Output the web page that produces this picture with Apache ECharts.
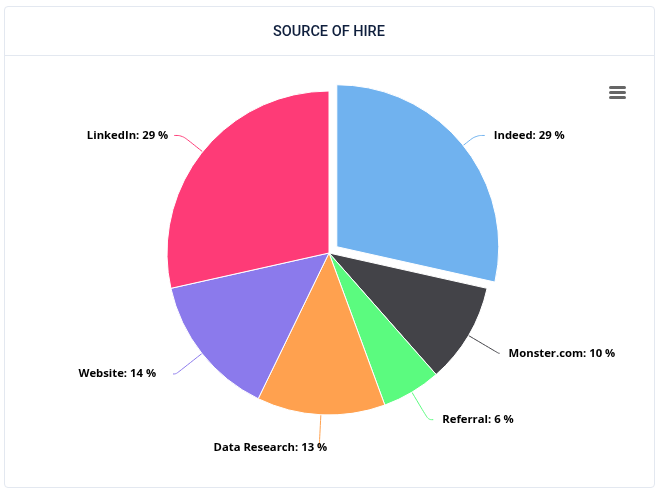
<!DOCTYPE html>
<html>
<head>
<meta charset="utf-8">
<script src="https://cdn.jsdelivr.net/npm/echarts@6/dist/echarts.min.js"></script>
<style>
  html, body { margin: 0; padding: 0; background: #fff; }
  #card { position: absolute; left: 4px; top: 6px; width: 649px; height: 480px; border: 1px solid #e3e8f0; border-radius: 4px; }
  #head { position: absolute; left: 0; top: 48px; width: 100%; border-top: 1px solid #e3e8f0; }
  #chart { position: absolute; left: 0; top: 0; width: 661px; height: 494px; }
</style>
</head>
<body>
<div id="card"><div id="head"></div></div>
<div id="chart"></div>
<script>
// slices, clockwise from the top
const sources = ['Indeed', 'Monster.com', 'Referral', 'Data Research', 'Website', 'LinkedIn']
const shares = [28.5, 10, 5.9, 12.8, 14.3, 28.5]
const colors = ['#70b2ef', '#434348', '#5bfb7f', '#ffa14f', '#8b7aec', '#fe3b77']
const pulledOut = 'Indeed'

// label line per slice: [length, length2, gap to text]
const leaders = [[16, 9, 9], [35, 1, 9], [32, 5, 9], [33, 1, -9], [33, 3, 17], [26, 8, 6]]

const chart = echarts.init(document.getElementById('chart'))
chart.setOption({
  animation: false,
  title: {
    text: 'SOURCE OF HIRE',
    left: 268,
    top: 20,
    textStyle: { fontFamily: 'Roboto', fontSize: 14.5, fontWeight: 500, color: '#0f1f3d' }
  },
  // burger menu
  graphic: [86, 91, 96].map(y => ({
    type: 'rect',
    shape: { x: 609, y, width: 17, height: 3, r: 1.5 },
    style: { fill: '#666' }
  })),
  color: colors,
  series: [{
    type: 'pie',
    center: [329, 253],
    radius: [0, 162],
    startAngle: 90,
    clockwise: true,
    selectedMode: 'single',
    selectedOffset: 10,
    avoidLabelOverlap: false,
    itemStyle: { borderColor: '#fff', borderWidth: 1 },
    label: {
      formatter: p => p.name + ': ' + Math.round(p.value) + ' %',
      fontFamily: 'Open Sans',
      fontSize: 11.3,
      fontWeight: 'bold',
      color: '#000',
      padding: [7, 0, 0, 0]
    },
    labelLine: { show: true, smooth: 0.4, lineStyle: { width: 1 } },
    data: sources.map((name, i) => ({
      name,
      value: shares[i],
      selected: name === pulledOut,
      label: { distanceToLabelLine: leaders[i][2] },
      labelLine: { length: leaders[i][0], length2: leaders[i][1] }
    }))
  }]
})
</script>
</body>
</html>
